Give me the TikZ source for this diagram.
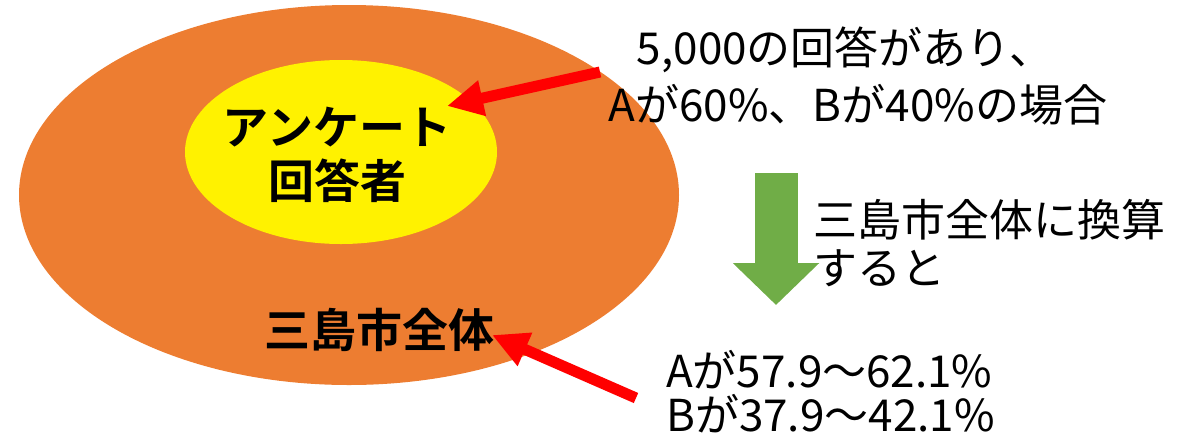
\documentclass[tikz,border=0pt]{standalone}
\usepackage{fontspec}
\newfontfamily\jp{Noto Sans CJK JP}
\newfontfamily\jpb{Noto Sans CJK JP Bold}
\usetikzlibrary{arrows.meta}
\definecolor{orng}{HTML}{ED7D31}
\definecolor{grn}{HTML}{70AD47}
\definecolor{redarr}{HTML}{FF0000}
\tikzset{
  redarrow/.style={draw=redarr,line width=11pt,-{Triangle[length=36pt,width=34pt]}},
  bigtxt/.style={font=\jpb\fontsize{46}{54}\selectfont,inner sep=0pt,align=center},
  rtxt/.style={font=\jp\fontsize{44}{52}\selectfont,inner sep=0pt},
}
\begin{document}
\begin{tikzpicture}[x=1pt,y=-1pt]
\useasboundingbox (0,0) rectangle (1193,437);
\fill[orng] (349,195) ellipse [x radius=330,y radius=190];
\fill[yellow] (341,152) ellipse [x radius=156,y radius=92];
\node[bigtxt] (resp) at (337,155) {アンケート\\回答者};
\node[bigtxt] (city) at (379,330) {三島市全体};
\node[rtxt,anchor=center] (t1) at (845,50) {5,000の回答があり、};
\node[rtxt,anchor=center] (t2) at (858,105) {Aが60\%、Bが40\%の場合};
\node[rtxt,anchor=west] (t3) at (813,220) {三島市全体に換算};
\node[rtxt,anchor=west] (t4) at (813,268) {すると};
\node[rtxt,anchor=west] (t5) at (666,370) {Aが57.9～62.1\%};
\node[rtxt,anchor=west] (t6) at (666,414) {Bが37.9～42.1\%};
\coordinate (a1s) at (600,72);
\coordinate (a1e) at (447,106);
\coordinate (a2s) at (636,398);
\coordinate (a2e) at (492,335);
\coordinate (gs) at (776,173);
\coordinate (ge) at (776,305);
\draw[redarrow] (a1s) -- (a1e);
\draw[redarrow] (a2s) -- (a2e);
\draw[grn,line width=43pt,-{Triangle[length=42pt,width=84pt]}] (gs) -- (ge);
\end{tikzpicture}
\end{document}
